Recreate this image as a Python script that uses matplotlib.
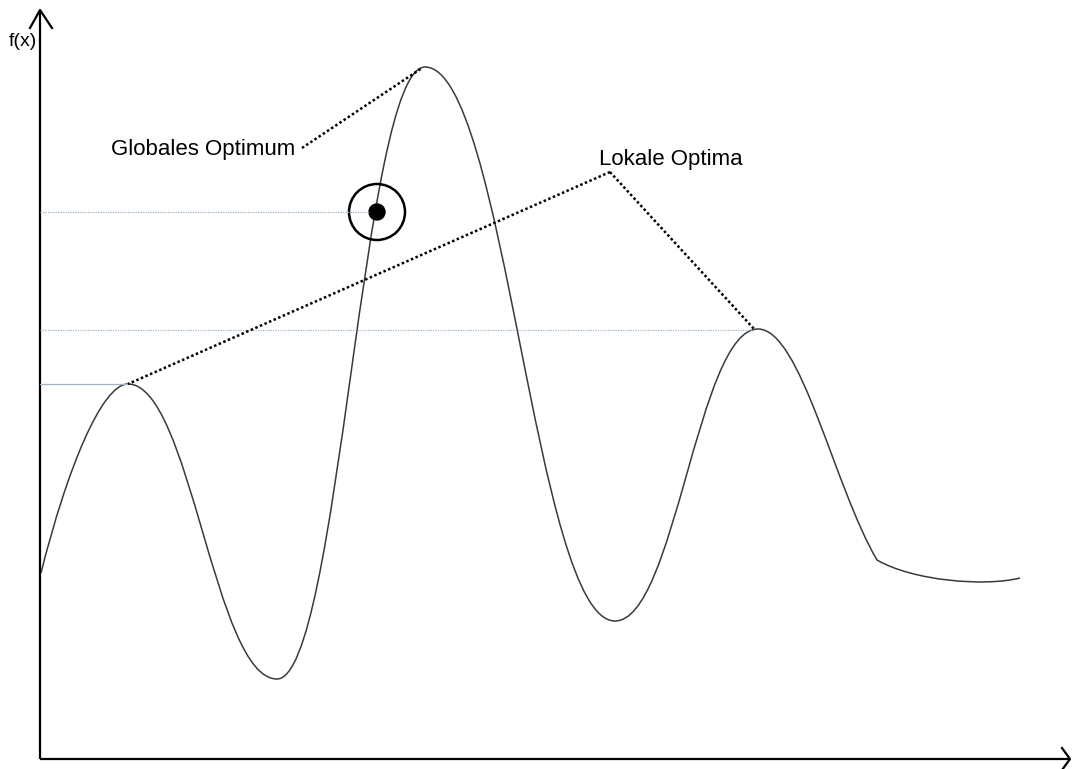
import numpy as np
import matplotlib.pyplot as plt
from matplotlib.path import Path
from matplotlib.patches import PathPatch, Circle

plt.rcParams['font.family'] = ['Liberation Sans', 'DejaVu Sans']

# curve nodes (x along the axis, f(x) above the x-axis)
node_x = [1, 88, 237, 385, 575, 718, 837, 980]
node_f = [186, 375, 80, 692, 138, 430, 199, 181]
# slope leaving / entering each node (df/dx)
slope_out = [4.0, 0, 0, 0, 0, 0, -0.58, 0]
slope_in = [0, 0, 0, 0, 0, 0, -1.7, 0.25]
seg_k = [0.3, 0.42, 0.42, 0.42, 0.42, 0.36, 0.25]

# marked point on the rising flank
mark_x, mark_f = 337, 547
# horizontal reference levels: (level, end x)
ref_levels = [547, 429, 375]
ref_ends = [330, 715, 88]
ref_styles = [(0, (1, 1)), (0, (1, 1)), '-']

glob_label = "Globales Optimum"
lok_label = "Lokale Optima"
glob_txt = (71, 610)
lok_txt = (559, 599)
glob_leader_x = [262, 382]
glob_leader_f = [611, 691]
lok_apex = (570, 587)
lok_targets_x = [88, 715]
lok_targets_f = [375, 429]


def curve_path():
    verts = [(node_x[0], node_f[0])]
    codes = [Path.MOVETO]
    for i in range(len(node_x) - 1):
        x0, f0 = node_x[i], node_f[i]
        x1, f1 = node_x[i + 1], node_f[i + 1]
        h = seg_k[i] * (x1 - x0)
        verts += [(x0 + h, f0 + slope_out[i] * h),
                  (x1 - h, f1 - slope_in[i + 1] * h),
                  (x1, f1)]
        codes += [Path.CURVE4] * 3
    return Path(verts, codes)


fig = plt.figure(figsize=(10.72, 7.69), dpi=100)
ax = fig.add_axes([0, 0, 1, 1])
ax.set_xlim(-40, 1032)
ax.set_ylim(-10, 759)
ax.axis('off')

# axes with open arrow heads
ax.plot([0, 0], [0, 749], color='black', lw=1.6, solid_capstyle='butt')
ax.plot([0, 1030], [0, 0], color='black', lw=1.6, solid_capstyle='butt')
ax.plot([-10, 0, 12], [731, 749, 731], color='black', lw=1.6)
ax.plot([1022, 1030, 1022], [11, 0, -11], color='black', lw=1.6)
ax.text(-3, 718, "f(x)", ha='right', va='center', fontsize=14)

# reference levels
for lev, xe, ls in zip(ref_levels, ref_ends, ref_styles):
    ax.plot([0, xe], [lev, lev], color='#9db3c8', lw=0.9, ls=ls)

ax.add_patch(PathPatch(curve_path(), fill=False, edgecolor='#3a3a3a', lw=1.1))

# marker
ax.add_patch(Circle((mark_x, mark_f), 28, fill=False, edgecolor='black', lw=1.8))
ax.add_patch(Circle((mark_x, mark_f), 8, color='black'))

# labels and dotted leaders
ax.text(*glob_txt, glob_label, ha='left', va='center', fontsize=16)
ax.text(*lok_txt, lok_label, ha='left', va='center', fontsize=16)
ax.plot(glob_leader_x, glob_leader_f, color='black', lw=1.8, ls=(0, (1, 1)))
for tx, tf in zip(lok_targets_x, lok_targets_f):
    ax.plot([lok_apex[0], tx], [lok_apex[1], tf], color='black', lw=1.8, ls=(0, (1, 1)))

fig.savefig('out.png', dpi=100)
